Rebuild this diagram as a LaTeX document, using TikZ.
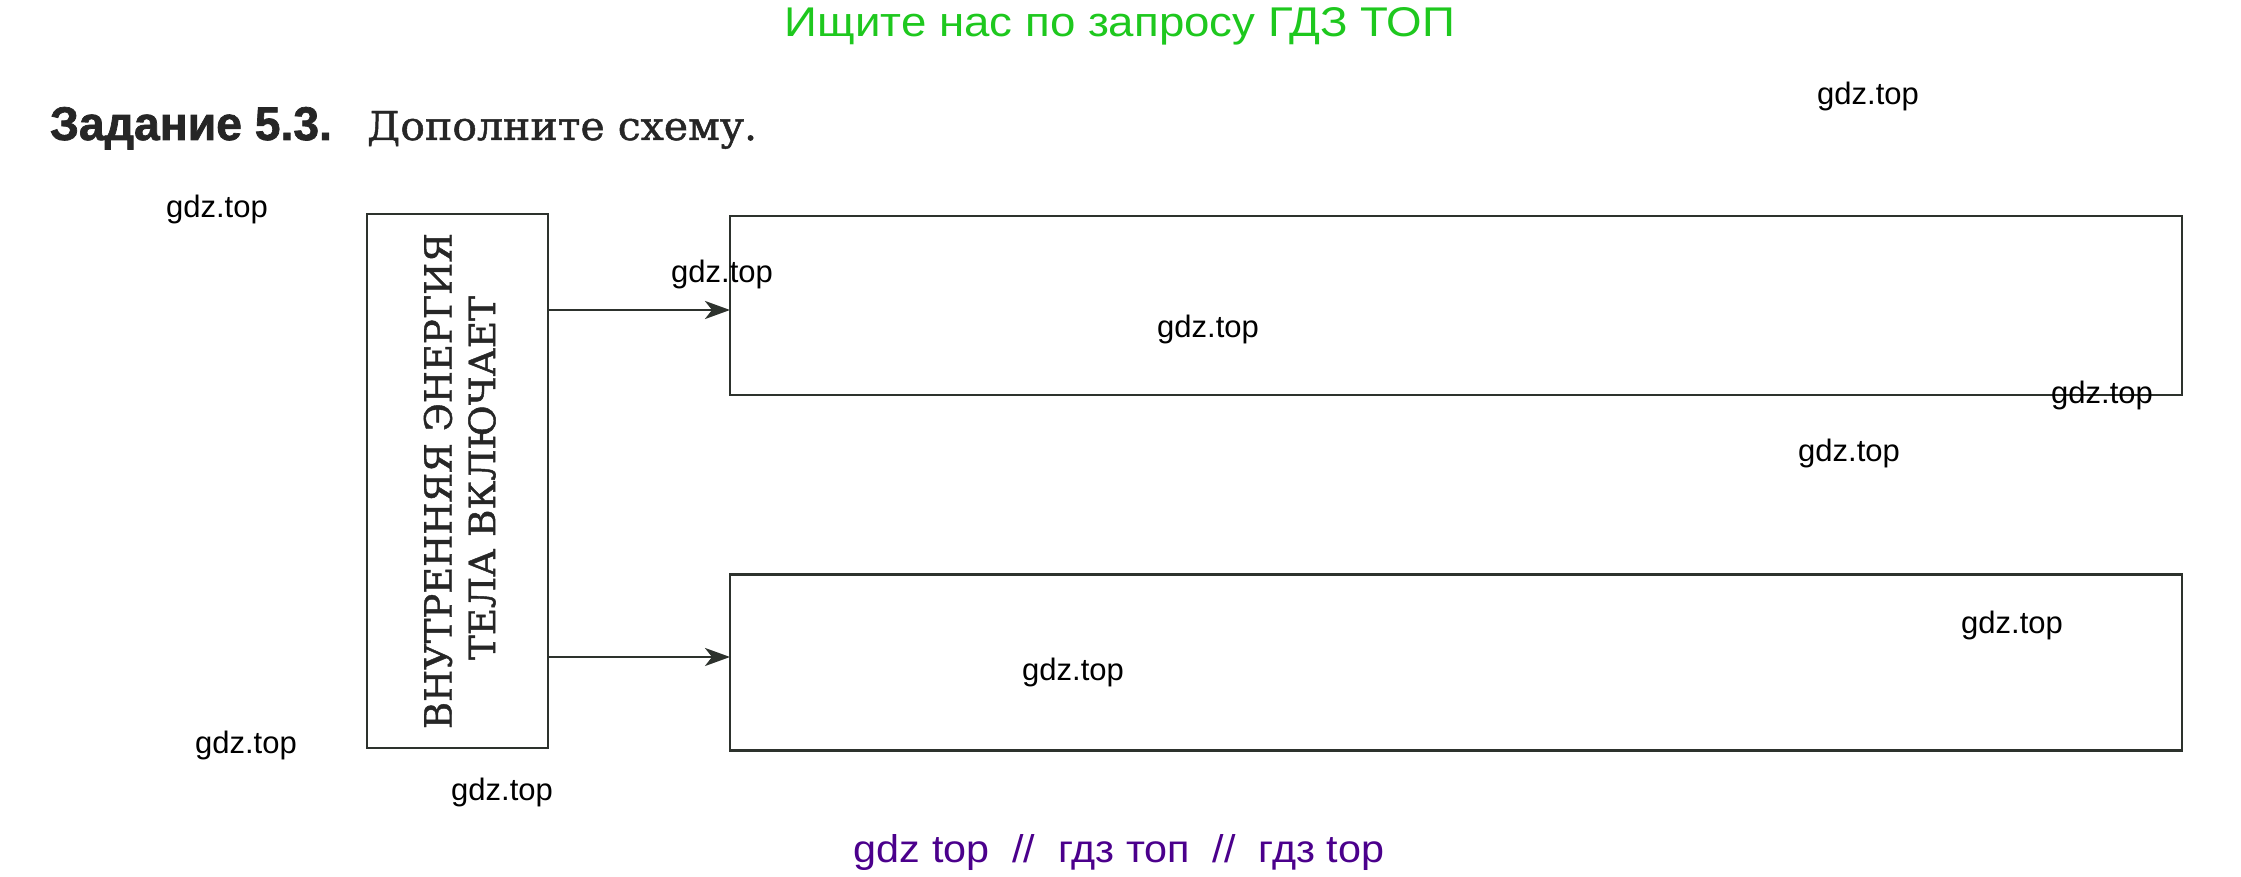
\documentclass[tikz,border=0pt]{standalone}
\usepackage{fontspec}
\usepackage{graphicx}
\setmainfont{DejaVu Serif}
\newfontfamily\sansru{Liberation Sans}
\newfontfamily\titlesans{Liberation Sans}[BoldFeatures={FakeBold=1.5}]
\newfontfamily\serifru{DejaVu Serif}[FakeBold=1.2]
\usetikzlibrary{arrows.meta}
\definecolor{linec}{RGB}{45,50,45}
\definecolor{wmgreen}{RGB}{30,200,30}
\definecolor{wmpurple}{RGB}{75,0,140}
\tikzset{
  box/.style={draw=linec, line width=2.6pt, inner sep=0pt, outer sep=0pt},
  arr/.style={draw=linec, line width=2.6pt, -{Stealth[length=25pt,width=18pt,inset=7pt]}},
  wm/.style={font=\sansru\fontsize{31}{31}\selectfont, text=black, inner sep=0pt},
  plain/.style={inner sep=0pt, outer sep=0pt}
}
\begin{document}
\begin{tikzpicture}[x=1pt,y=1pt]
\useasboundingbox (0,0) rectangle (2241,-877);
\fill[white] (0,0) rectangle (2241,-877);

% header
\node[plain, anchor=base, text=wmgreen] (hdr) at (1120,-37)
  {\resizebox{670pt}{29pt}{\sansru Ищите нас по запросу ГДЗ ТОП}};
\node[plain, anchor=base west, text=black!85] (task) at (50,-140)
  {\resizebox{282pt}{33pt}{\titlesans\bfseries Задание 5.3.}};
\node[plain, anchor=base west, text=black!85] (taskt) at (367,-140)
  {\resizebox{390pt}{29pt}{\serifru Дополните схему.}};

% main vertical box
\node[box, minimum width=181pt, minimum height=534pt] (main) at (457.5,-481) {};
\node[plain, rotate=90, text=black!85] (l1) at (438,-481)
  {\resizebox{496pt}{28pt}{\serifru ВНУТРЕННЯЯ ЭНЕРГИЯ}};
\node[plain, rotate=90, text=black!85] (l2) at (482,-478)
  {\resizebox{364pt}{27pt}{\serifru ТЕЛА ВКЛЮЧАЕТ}};

% right boxes
\node[box, minimum width=1452pt, minimum height=179pt] (b1) at (1456,-305.5) {};
\node[box, minimum width=1452pt, minimum height=176pt] (b2) at (1456,-662.5) {};

% arrows
\coordinate (t1) at ([yshift=-4.5pt]b1.west);
\coordinate (t2) at ([yshift=5.5pt]b2.west);
\draw[arr] (main.east |- t1) -- (t1);
\draw[arr] (main.east |- t2) -- (t2);

% watermarks
\node[wm] (w1) at (1868,-96) {gdz.top};
\node[wm] (w2) at (217,-209) {gdz.top};
\node[wm] (w3) at (722,-274) {gdz.top};
\node[wm] (w4) at (1208,-329) {gdz.top};
\node[wm] (w5) at (2102,-395) {gdz.top};
\node[wm] (w6) at (1849,-453) {gdz.top};
\node[wm] (w7) at (2012,-625) {gdz.top};
\node[wm] (w8) at (1073,-672) {gdz.top};
\node[wm] (w9) at (246,-745) {gdz.top};
\node[wm] (w10) at (502,-792) {gdz.top};

% footer
\node[plain, anchor=base, text=wmpurple] (ftr) at (1119,-862)
  {\resizebox{530pt}{28pt}{\sansru gdz top\ \ //\ \ гдз топ\ \ //\ \ гдз top}};
\end{tikzpicture}
\end{document}
